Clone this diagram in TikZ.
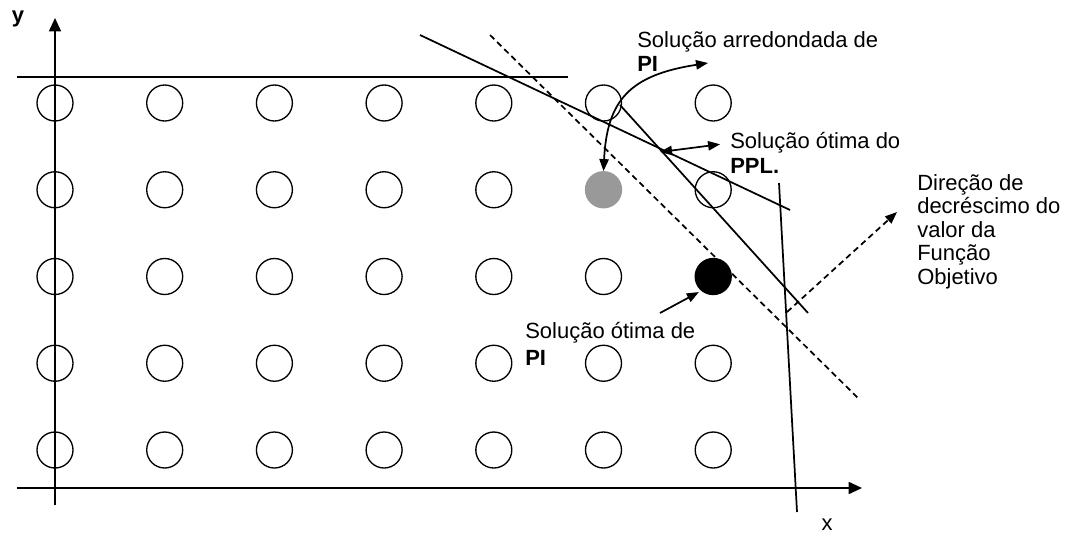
\documentclass[tikz,border=0pt]{standalone}
\usepackage{fontspec}
\setmainfont{Liberation Sans}
\usetikzlibrary{arrows.meta}
\usetikzlibrary{positioning}

\begin{document}
\begin{tikzpicture}[x=0.75pt, y=-0.75pt]

    % Custom styles for points, texts and lines
    \tikzstyle{point} = [draw, circle, line width=1pt, minimum size=27pt, inner sep=0pt]
    \tikzstyle{roundpt} = [point, draw=black!40, fill=black!40]
    \tikzstyle{optpt} = [point, fill=black]
    \tikzstyle{txt} = [inner sep=0pt, anchor=west, font=\fontsize{16.5}{17.6}\selectfont]
    \tikzstyle{boldtxt} = [txt, font=\fontsize{16.5}{17.6}\selectfont\bfseries]
    \tikzstyle{edge} = [line width=1.3pt]
    \tikzstyle{tip} = [-{Triangle[length=9pt, width=7pt]}]
    \tikzstyle{axistip} = [-{Triangle[length=10pt, width=9pt]}]

    \useasboundingbox (0,0) rectangle (1069,536);

    % Define nodes
    \foreach \i in {0,...,6}
        \foreach \j in {0,...,4} {
            \def\look{point}
            \ifnum\i\j=51 \def\look{roundpt}\fi
            \ifnum\i\j=62 \def\look{optpt}\fi
            \node[\look] (c\i\j) at ({55+109.7*\i},{103+86.75*\j}) {};
        }

    \node[boldtxt, anchor=center] (ylabel) at (18,19) {y};
    \node[txt, anchor=center] (xlabel) at (827,525) {x};
    \node[txt] (roundtext) at (637,42) {Solução arredondada de};
    \node[boldtxt] (roundpi) at (637,64) {PI};
    \node[txt] (lptext) at (730,143) {Solução ótima do};
    \node[boldtxt] (lpppl) at (730,166) {PPL.};
    \node[txt, align=left, anchor=north west] (dirtext) at (917,174)
        {Direção de\\decréscimo do\\valor da\\Função\\Objetivo};
    \node[txt] (iptext) at (525,333) {Solução ótima de};
    \node[boldtxt] (ippi) at (525,358) {PI};

    % Line end points
    \coordinate (xo) at (17,488);
    \coordinate (xe) at (862,488);
    \coordinate (yo) at (55,505);
    \coordinate (ye) at (55,18);
    \coordinate (h1) at (17,77);
    \coordinate (h2) at (568,77);
    \coordinate (a1) at (420,35);
    \coordinate (a2) at (790,210);
    \coordinate (b1) at (620,105);
    \coordinate (b2) at (808,313);
    \coordinate (v1) at (779,183);
    \coordinate (v2) at (797,512);
    \coordinate (d1) at (490,35);
    \coordinate (d2) at (860,400);
    \coordinate (dir1) at (787,312);
    \coordinate (dir2) at (897,212);
    \coordinate (roundtip) at (708,63);
    \coordinate (lpopt) at (660,152);
    \coordinate (iptail) at (660,313);

    % Connect nodes
    \draw[edge, axistip] (xo) -- (xe);
    \draw[edge, axistip] (yo) -- (ye);
    \draw[edge] (h1) -- (h2);
    \draw[edge] (a1) -- (a2);
    \draw[edge] (b1) -- (b2);
    \draw[edge] (v1) -- (v2);
    \draw[edge, dashed, dash pattern=on 4.5pt off 3pt] (d1) -- (d2);
    \draw[edge, tip, dashed, dash pattern=on 4.5pt off 3pt] (dir1) -- (dir2);
    \draw[edge, {Triangle[length=9pt, width=7pt]}-{Triangle[length=9pt, width=7pt]}]
        (c51.north) .. controls (607,100) and (630,75) .. (roundtip);
    \draw[edge, {Triangle[length=9pt, width=7pt]}-{Triangle[length=9pt, width=7pt]}, shorten >=7.5pt]
        (lpopt) -- (lptext.west);
    \draw[edge, tip, shorten >=2pt] (iptail) -- (c62.-130);

\end{tikzpicture}
\end{document}
